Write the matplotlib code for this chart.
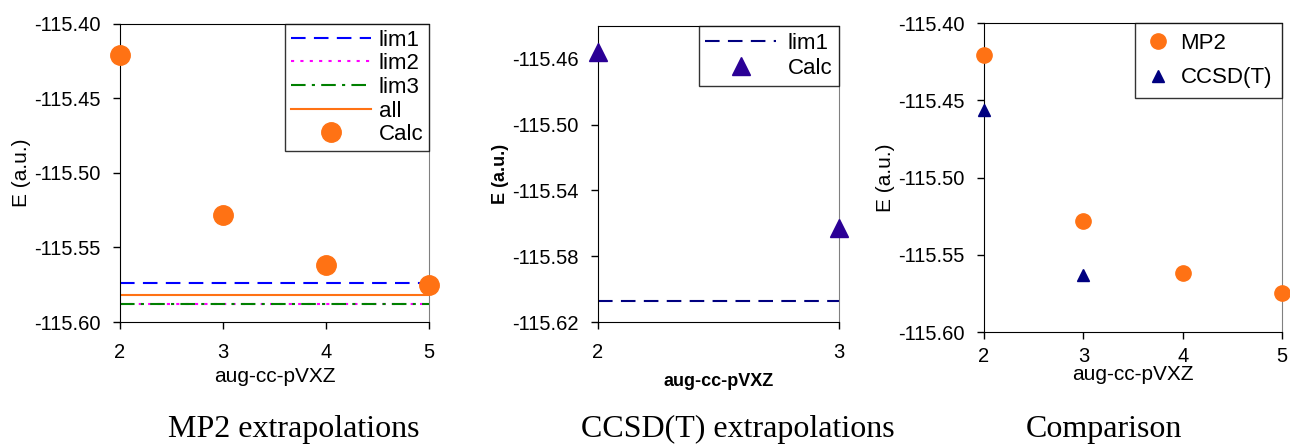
import matplotlib
matplotlib.use("Agg")
import matplotlib.pyplot as plt

plt.rcParams['font.family'] = ['Liberation Sans', 'DejaVu Sans']

# basis set cardinal numbers
x_mp2 = [2, 3, 4, 5]
x_ccsd = [2, 3]

# energies (a.u.)
e_mp2 = [-115.421, -115.528, -115.562, -115.575]
e_ccsd = [-115.456, -115.563]

# extrapolated limits
mp2_limits = {"lim1": -115.574, "lim2": -115.588, "lim3": -115.588, "all": -115.582}
ccsd_lim1 = -115.607

titles = ["MP2 extrapolations", "CCSD(T) extrapolations", "Comparison"]
title_x = [0.228, 0.572, 0.856]

ORANGE = "#ff7214"
INDIGO = "#2b0096"
NAVY = "#000080"

fig = plt.figure(figsize=(12.9, 4.45), dpi=100)


def style_axes(ax):
    for s in ["left", "bottom", "top"]:
        ax.spines[s].set_color("black")
    ax.spines["right"].set_color("#808080")
    ax.tick_params(direction="out", length=5, width=1, labelsize=14.5, colors="black")
    ax.tick_params(axis="y", pad=9)
    ax.tick_params(axis="x", pad=10)


def boxed_legend(ax, **kw):
    leg = ax.legend(loc="upper right", frameon=True, fancybox=False,
                    borderaxespad=0, **kw)
    leg.get_frame().set_edgecolor("black")
    leg.get_frame().set_linewidth(1)
    return leg


# --- MP2 extrapolations
ax1 = fig.add_axes([0.093, 0.2764, 0.2395, 0.6697])
ax1.axhline(mp2_limits["lim1"], color="#0000ff", ls=(0, (7, 4)), lw=1.5, label="lim1")
ax1.axhline(mp2_limits["lim2"], color="#ff00ff", ls=(0, (1.5, 3)), lw=1.5, label="lim2")
ax1.axhline(mp2_limits["lim3"], color="#008000", ls=(0, (7, 3, 1.5, 3)), lw=1.5, label="lim3")
ax1.axhline(mp2_limits["all"], color=ORANGE, ls="-", lw=1.5, label="all")
ax1.plot(x_mp2, e_mp2, "o", color=ORANGE, ms=14, clip_on=False, zorder=5, label="Calc")
ax1.set_xlim(2, 5)
ax1.set_ylim(-115.60, -115.40)
ax1.set_xticks(x_mp2)
ax1.set_yticks([-115.60, -115.55, -115.50, -115.45, -115.40])
ax1.yaxis.set_major_formatter(plt.FormatStrFormatter("%.2f"))
ax1.set_xlabel("aug-cc-pVXZ", fontsize=15, labelpad=4)
ax1.set_ylabel("E (a.u.)", fontsize=15, labelpad=2)
style_axes(ax1)
boxed_legend(ax1, fontsize=16, handlelength=3.6, labelspacing=0.12,
             borderpad=0.25, handletextpad=0.35)

# --- CCSD(T) extrapolations
ax2 = fig.add_axes([0.4636, 0.2764, 0.1868, 0.665])
ax2.axhline(ccsd_lim1, color=NAVY, ls=(0, (7, 4)), lw=1.5, label="lim1")
ax2.plot(x_ccsd, e_ccsd, "^", color=INDIGO, ms=13, clip_on=False, zorder=5, label="Calc")
ax2.set_xlim(2, 3)
ax2.set_ylim(-115.62, -115.44)
ax2.set_xticks(x_ccsd)
ax2.set_yticks([-115.62, -115.58, -115.54, -115.50, -115.46])
ax2.yaxis.set_major_formatter(plt.FormatStrFormatter("%.2f"))
ax2.set_xlabel("aug-cc-pVXZ", fontsize=13, fontweight="bold", labelpad=8)
ax2.set_ylabel("E (a.u.)", fontsize=13, fontweight="bold", labelpad=2)
style_axes(ax2)
boxed_legend(ax2, fontsize=16, handlelength=3.2, labelspacing=0.2,
             borderpad=0.3, handletextpad=0.5)

# --- Comparison
ax3 = fig.add_axes([0.7628, 0.2539, 0.231, 0.6944])
ax3.plot(x_mp2, e_mp2, "o", color=ORANGE, ms=11, clip_on=False, zorder=5, label="MP2")
ax3.plot(x_ccsd, e_ccsd, "^", color=NAVY, ms=9, clip_on=False, zorder=5, label="CCSD(T)")
ax3.set_xlim(2, 5)
ax3.set_ylim(-115.60, -115.40)
ax3.set_xticks(x_mp2)
ax3.set_yticks([-115.60, -115.55, -115.50, -115.45, -115.40])
ax3.yaxis.set_major_formatter(plt.FormatStrFormatter("%.2f"))
style_axes(ax3)
ax3.tick_params(axis="x", pad=6)
ax3.set_xlabel("aug-cc-pVXZ", fontsize=15, labelpad=-1)
ax3.set_ylabel("E (a.u.)", fontsize=15, labelpad=2)
boxed_legend(ax3, fontsize=16, handlelength=1.2, labelspacing=0.6,
             borderpad=0.45, handletextpad=0.4)

# captions under each panel
for xpos, t in zip(title_x, titles):
    fig.text(xpos, 0.035, t, ha="center", va="center",
             family="Liberation Serif", fontsize=23)

fig.savefig("out.png", dpi=100)
